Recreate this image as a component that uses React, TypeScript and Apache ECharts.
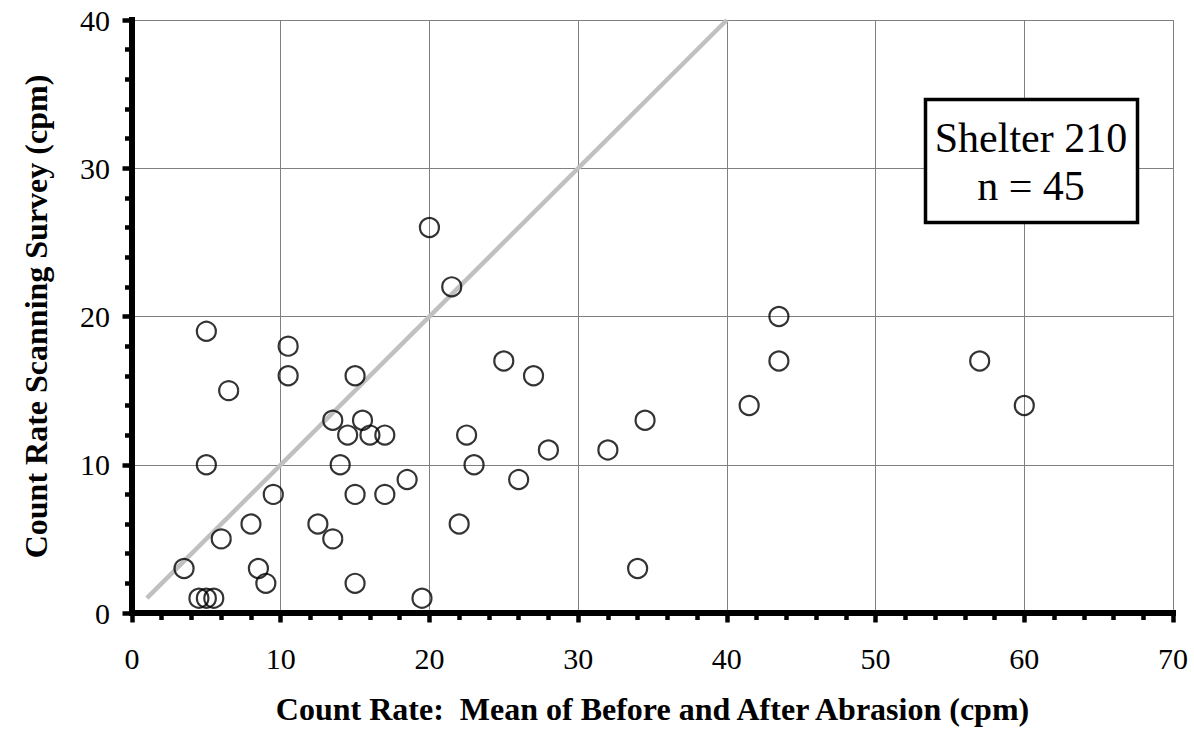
import React, { useEffect, useRef } from "react";
import * as echarts from "echarts";

const meanCounts: number[] = [
  3.5, 4.5, 5, 5.5, 5, 5, 6, 6.5, 8, 8.5, 9, 9.5, 10.5, 10.5, 12.5, 13.5, 13.5, 14, 14.5, 15, 15, 15, 15.5,
  16, 17, 17, 18.5, 19.5, 20, 21.5, 22, 22.5, 23, 25, 26, 27, 28, 32, 34, 34.5, 41.5, 43.5, 43.5, 57, 60,
];
const scanCounts: number[] = [
  3, 1, 1, 1, 19, 10, 5, 15, 6, 3, 2, 8, 18, 16, 6, 5, 13, 10, 12, 16, 8, 2, 13,
  12, 12, 8, 9, 1, 26, 22, 6, 12, 10, 17, 9, 16, 11, 11, 3, 13, 14, 20, 17, 17, 14,
];
const oneToOneX: number[] = [1, 40];
const oneToOneY: number[] = [1, 40];
const xTicks: number[] = [0, 10, 20, 30, 40, 50, 60, 70];
const yTicks: number[] = [0, 10, 20, 30, 40];
const xTitle = "Count Rate:  Mean of Before and After Abrasion (cpm)";
const yTitle = "Count Rate Scanning Survey (cpm)";
const boxLines: string[] = ["Shelter 210", "n = 45"];

const FONT = "'Liberation Serif', 'Times New Roman', serif";

export default function App() {
  const ref = useRef<HTMLDivElement>(null);
  useEffect(() => {
    document.body.style.margin = "0";
    if (!ref.current) return;
    const chart = echarts.init(ref.current, undefined, { renderer: "svg" });
    const points = meanCounts.map((x, i) => [x, scanCounts[i]]);
    const linePts = oneToOneX.map((x, i) => [x, oneToOneY[i]]);
    const axisCommon = {
      type: "value" as const,
      axisLine: { show: true, onZero: false, lineStyle: { color: "#000", width: 6, cap: "square" as const } },
      axisTick: { show: true, inside: false, length: 9.5, lineStyle: { color: "#000", width: 4.5 } },
      minorTick: { show: true, splitNumber: 5, length: 7, lineStyle: { color: "#000", width: 4.5 } },
      splitLine: { show: true, lineStyle: { color: "#808080", width: 1 } },
      nameLocation: "middle" as const,
      nameTextStyle: { fontFamily: FONT, fontSize: 32, fontWeight: "bold" as const, color: "#000" },
    };
    chart.setOption({
      animation: false,
      backgroundColor: "#fff",
      grid: {
        left: 132,
        right: 21,
        top: 20,
        bottom: 118,
        show: false,
      },
      xAxis: [
        {
          ...axisCommon,
          min: xTicks[0],
          max: xTicks[xTicks.length - 1],
          interval: 10,
          name: xTitle,
          nameGap: 80,
          axisLabel: { fontFamily: FONT, fontSize: 30, color: "#000", margin: 30 },
        },
        {
          type: "value",
          position: "top",
          min: xTicks[0],
          max: xTicks[xTicks.length - 1],
          interval: 10,
          axisLine: { show: true, lineStyle: { color: "#000", width: 5.5, cap: "square" } },
          axisTick: { show: false },
          axisLabel: { show: false },
          splitLine: { show: false },
        },
      ],
      yAxis: [
        {
          ...axisCommon,
          min: yTicks[0],
          max: yTicks[yTicks.length - 1],
          interval: 10,
          name: yTitle,
          nameGap: 80,
          axisLabel: { fontFamily: FONT, fontSize: 30, color: "#000", margin: 22 },
        },
        {
          type: "value",
          position: "right",
          min: yTicks[0],
          max: yTicks[yTicks.length - 1],
          interval: 10,
          axisLine: { show: true, lineStyle: { color: "#000", width: 5.5, cap: "square" } },
          axisTick: { show: false },
          axisLabel: { show: false },
          splitLine: { show: false },
        },
      ],
      series: [
        {
          type: "line",
          data: linePts,
          symbol: "none",
          lineStyle: { color: "#c0c0c0", width: 4.5 },
          z: 2,
          silent: true,
        },
        {
          type: "scatter",
          data: points,
          symbol: "circle",
          symbolSize: 19,
          itemStyle: { color: "rgba(0,0,0,0)", borderColor: "#000", borderWidth: 2.2 },
          z: 3,
        },
      ],
      graphic: [
        {
          type: "rect",
          shape: { x: 925.5, y: 99.5, width: 212, height: 123 },
          style: { fill: "#fff", stroke: "#000", lineWidth: 3.5 },
          z: 100,
        },
        {
          type: "text",
          x: 1031,
          y: 138,
          style: {
            text: boxLines[0],
            fontFamily: FONT,
            fontSize: 42,
            fill: "#000",
            textAlign: "center",
            textVerticalAlign: "middle",
          },
          z: 101,
        },
        {
          type: "text",
          x: 1031,
          y: 186,
          style: {
            text: boxLines[1],
            fontFamily: FONT,
            fontSize: 42,
            fill: "#000",
            textAlign: "center",
            textVerticalAlign: "middle",
          },
          z: 101,
        },
      ],
    });
    return () => chart.dispose();
  }, []);
  return <div ref={ref} style={{ width: 1194, height: 731 }} />;
}
